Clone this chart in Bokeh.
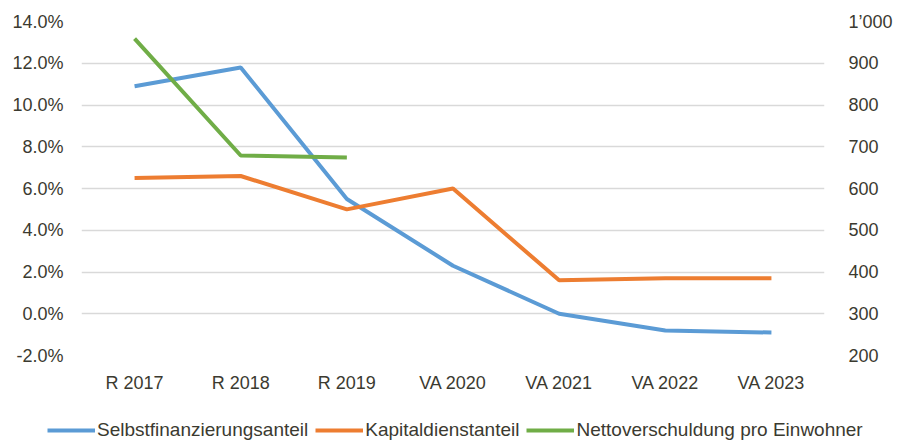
from bokeh.plotting import figure
from bokeh.layouts import column
from bokeh.models import (FactorRange, Range1d, LinearAxis, FixedTicker, Legend, LegendItem)
from bokeh.embed import file_html
from bokeh.resources import INLINE

categories = ["R 2017", "R 2018", "R 2019", "VA 2020", "VA 2021", "VA 2022", "VA 2023"]
selbstfinanzierung = [10.9, 11.8, 5.5, 2.3, 0.0, -0.8, -0.9]
kapitaldienst = [6.5, 6.6, 5.0, 6.0, 1.6, 1.7, 1.7]
netto_categories = ["R 2017", "R 2018", "R 2019"]
nettoverschuldung = [959, 679, 674]
series_names = ["Selbstfinanzierungsanteil", "Kapitaldienstanteil", "Nettoverschuldung pro Einwohner"]
series_colors = ["#5B9BD5", "#ED7D31", "#70AD47"]

left_ticks = [-2, 0, 2, 4, 6, 8, 10, 12, 14]
left_labels = ["-2.0%", "0.0%", "2.0%", "4.0%", "6.0%", "8.0%", "10.0%", "12.0%", "14.0%"]
right_ticks = [200, 300, 400, 500, 600, 700, 800, 900, 1000]
right_labels = ["200", "300", "400", "500", "600", "700", "800", "900", "1\u2019000"]

FONT = "Liberation Sans"
TXT = "#3b3a30"
W = 895

p = figure(width=W, height=412, x_range=FactorRange(*categories),
           y_range=Range1d(-2, 14), output_backend="svg", toolbar_location=None,
           min_border_left=81, min_border_right=62, min_border_top=21, min_border_bottom=57)
p.outline_line_color = None
p.extra_y_ranges = {"right": Range1d(200, 1000)}

p.xgrid.grid_line_color = None
p.ygrid.grid_line_color = "#d9d9d9"
p.ygrid.grid_line_width = 1.3
p.yaxis.ticker = FixedTicker(ticks=left_ticks)
p.yaxis.major_label_overrides = {t: l for t, l in zip(left_ticks, left_labels)}

raxis = LinearAxis(y_range_name="right", ticker=FixedTicker(ticks=right_ticks))
raxis.major_label_overrides = {t: l for t, l in zip(right_ticks, right_labels)}
p.add_layout(raxis, "right")

for ax in [p.xaxis[0], p.yaxis[0], raxis]:
    ax.axis_line_color = None
    ax.major_tick_line_color = None
    ax.minor_tick_line_color = None
    ax.major_label_text_font = FONT
    ax.major_label_text_font_size = "18px"
    ax.major_label_text_color = TXT
p.yaxis[0].major_label_standoff = 12
raxis.major_label_standoff = 18
p.xaxis[0].major_label_standoff = 11

p.line(categories, selbstfinanzierung, line_color=series_colors[0], line_width=4)
p.line(categories, kapitaldienst, line_color=series_colors[1], line_width=4)
p.line(netto_categories, nettoverschuldung, line_color=series_colors[2], line_width=4,
       y_range_name="right")

# legend strip (separate figure below the chart)
lg = figure(width=W, height=29, x_range=Range1d(0, 1), y_range=Range1d(0, 1),
            output_backend="svg", toolbar_location=None,
            x_axis_location=None, y_axis_location=None,
            min_border=0, min_border_left=0, min_border_right=0,
            min_border_top=0, min_border_bottom=0)
lg.grid.visible = False
lg.outline_line_color = None

legend_x = -34
if "frame_align" in lg.properties():
    lg.frame_align = False
    p.frame_align = False
    legend_x = 47

items = []
for name, col in zip(series_names, series_colors):
    # off-range proxy so that the legend swatch has a colour to draw
    r = lg.line(x=[-2, -1], y=[-2, -1], line_color=col, line_width=4)
    items.append(LegendItem(label=name, renderers=[r]))
legend = Legend(items=items, orientation="horizontal", location=(legend_x, 0),
                label_text_font=FONT, label_text_font_size="19px", label_text_color=TXT,
                glyph_width=48, label_standoff=2, spacing=7, padding=0, margin=0,
                border_line_color=None, background_fill_alpha=0)
lg.add_layout(legend, "center")

layout = column(p, lg, spacing=0)
open("out.html", "w").write(file_html(layout, INLINE))
